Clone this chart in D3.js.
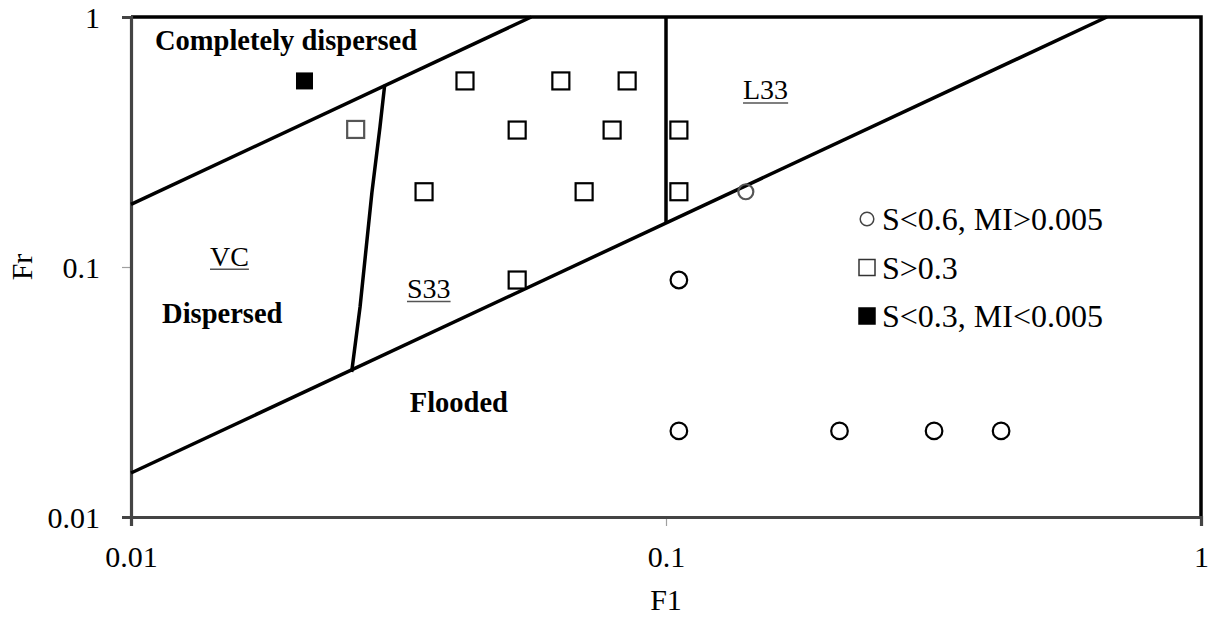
<!DOCTYPE html>
<html>
<head>
<meta charset="utf-8">
<script src="https://cdn.jsdelivr.net/npm/d3@7"></script>
<style>
  html, body { margin: 0; padding: 0; background: #fff; }
  svg { display: block; font-family: "Liberation Serif", "Times New Roman", serif; }
</style>
</head>
<body>
<svg id="chart" width="1210" height="617"></svg>
<script>
// Axis ticks
const xTicks = [0.01, 0.1, 1];
const yTicks = [0.01, 0.1, 1];
const xTickLabels = ["0.01", "0.1", "1"];
const yTickLabels = ["0.01", "0.1", "1"];

// Measured points: S>0.3 (open squares)
const openSquareFl = [0.0263, 0.0421, 0.0636, 0.0846, 0.0527, 0.0793, 0.1057, 0.0353, 0.0703, 0.1057, 0.0527];
const openSquareFr = [0.355, 0.555, 0.555, 0.555, 0.353, 0.353, 0.353, 0.2, 0.2, 0.2, 0.0887];

// S<0.3, MI<0.005 (filled squares)
const filledSquareFl = [0.0211];
const filledSquareFr = [0.555];

// S<0.6, MI>0.005 (open circles)
const circleFl = [0.141, 0.1057, 0.1057, 0.211, 0.317, 0.423];
const circleFr = [0.2, 0.0887, 0.0221, 0.0221, 0.0221, 0.0221];

// Regime boundaries
const dispersedBoundaryFl = [0.01, 0.056];
const dispersedBoundaryFr = [0.178, 1];
const floodingBoundaryFl = [0.01, 0.667];
const floodingBoundaryFr = [0.015, 1];
const vcBoundaryFl = [0.0298, 0.0292, 0.0282, 0.0268, 0.02585];
const vcBoundaryFr = [0.535, 0.363, 0.198, 0.0692, 0.038];
const l33BoundaryFl = [0.1, 0.1];
const l33BoundaryFr = [1, 0.15];

// Legend entries
const legendLabels = ["S<0.6, MI>0.005", "S>0.3", "S<0.3, MI<0.005"];
const legendShapes = ["circle", "square", "filled"];

const svg = d3.select("#chart");
const plot = { left: 131, right: 1201, top: 17, bottom: 517 };

const x = d3.scaleLog().domain([0.01, 1]).range([plot.left, plot.right]);
const y = d3.scaleLog().domain([0.01, 1]).range([plot.bottom, plot.top]);

const zip = (a, b) => a.map((v, i) => [v, b[i]]);

// Plot frame: top and right edges in black
svg.append("path")
  .attr("d", `M${plot.left},${plot.top}H${plot.right}V${plot.bottom}`)
  .attr("fill", "none").attr("stroke", "#000").attr("stroke-width", 3.5);

// Axes
const xAxis = d3.axisBottom(x).tickValues(xTicks).tickSize(9).tickFormat((d, i) => xTickLabels[i]);
const yAxis = d3.axisLeft(y).tickValues(yTicks).tickSize(9).tickFormat((d, i) => yTickLabels[i]);

const gx = svg.append("g").attr("transform", `translate(0,${plot.bottom})`).call(xAxis);
const gy = svg.append("g").attr("transform", `translate(${plot.left},0)`).call(yAxis);

[gx, gy].forEach(g => {
  g.select(".domain").attr("stroke", "#444").attr("stroke-width", 3.2);
  g.selectAll(".tick line").attr("stroke", "#a0a0a0").attr("stroke-width", 1.2);
  g.selectAll(".tick text")
    .attr("font-family", "Liberation Serif")
    .attr("font-size", 30)
    .attr("fill", "#000");
});
gx.selectAll(".tick text").attr("dy", null).attr("y", 50).attr("dominant-baseline", "auto");
gy.selectAll(".tick text").attr("dy", null).attr("x", -31).attr("y", 10);
gx.select(".domain").raise();
gy.select(".domain").raise();

// Axis titles
svg.append("text")
  .attr("x", x(0.1)).attr("y", 610)
  .attr("text-anchor", "middle")
  .attr("font-size", 30)
  .text("F1");
svg.append("text")
  .attr("transform", `translate(32,${y(0.1)}) rotate(-90)`)
  .attr("text-anchor", "middle")
  .attr("font-size", 30)
  .text("Fr");

// Regime boundaries
const line = d3.line().x(d => x(d[0])).y(d => y(d[1]));
const boundaries = [
  zip(dispersedBoundaryFl, dispersedBoundaryFr),
  zip(floodingBoundaryFl, floodingBoundaryFr),
  zip(vcBoundaryFl, vcBoundaryFr),
  zip(l33BoundaryFl, l33BoundaryFr)
];
svg.append("g").selectAll("path").data(boundaries).join("path")
  .attr("d", line)
  .attr("fill", "none")
  .attr("stroke", "#000")
  .attr("stroke-width", 3.5)
  .attr("stroke-linejoin", "round");

// Regime labels (bold)
const boldLabels = [
  { text: "Completely dispersed", fl: 0.01109, fr: 0.738 },
  { text: "Dispersed", fl: 0.01143, fr: 0.0597 },
  { text: "Flooded", fl: 0.0332, fr: 0.0263 }
];
svg.append("g").selectAll("text").data(boldLabels).join("text")
  .attr("x", d => x(d.fl))
  .attr("y", d => y(d.fr))
  .attr("font-size", 28.5)
  .attr("font-weight", "bold")
  .text(d => d.text);

// Region names (underlined)
const regionNames = [
  { text: "VC", fl: 0.01405, fr: 0.1012 },
  { text: "S33", fl: 0.0328, fr: 0.0752 },
  { text: "L33", fl: 0.1393, fr: 0.468 }
];
const rn = svg.append("g").selectAll("g").data(regionNames).join("g");
rn.append("text")
  .attr("x", d => x(d.fl))
  .attr("y", d => y(d.fr))
  .attr("font-size", 28)
  .text(d => d.text);
rn.each(function () {
  const t = d3.select(this).select("text");
  const b = t.node().getBBox();
  const base = +t.attr("y");
  d3.select(this).append("line")
    .attr("x1", b.x).attr("x2", b.x + b.width)
    .attr("y1", base + 3.5).attr("y2", base + 3.5)
    .attr("stroke", "#555").attr("stroke-width", 1.5);
});

// Data markers
const sq = 17;
svg.append("g").selectAll("rect").data(zip(openSquareFl, openSquareFr)).join("rect")
  .attr("x", d => x(d[0]) - sq / 2)
  .attr("y", d => y(d[1]) - sq / 2)
  .attr("width", sq).attr("height", sq)
  .attr("fill", "#fff")
  .attr("stroke", (d, i) => i === 0 ? "#555" : "#000")
  .attr("stroke-width", 2.2);

svg.append("g").selectAll("rect").data(zip(filledSquareFl, filledSquareFr)).join("rect")
  .attr("x", d => x(d[0]) - sq / 2)
  .attr("y", d => y(d[1]) - sq / 2)
  .attr("width", sq).attr("height", sq)
  .attr("fill", "#000");

svg.append("g").selectAll("circle").data(zip(circleFl, circleFr)).join("circle")
  .attr("cx", d => x(d[0]))
  .attr("cy", d => y(d[1]))
  .attr("r", (d, i) => i === 0 ? 7.5 : 8.3)
  .attr("fill", "none")
  .attr("stroke", (d, i) => i === 0 ? "#555" : "#000")
  .attr("stroke-width", 2.2);

// Legend
const legendX = 867, legendY0 = 219, legendStep = 48.5;
const lg = svg.append("g").selectAll("g").data(legendLabels).join("g")
  .attr("transform", (d, i) => `translate(${legendX},${legendY0 + i * legendStep})`);
lg.each(function (d, i) {
  const g = d3.select(this);
  if (legendShapes[i] === "circle") {
    g.append("circle").attr("r", 6.8).attr("fill", "none")
      .attr("stroke", "#444").attr("stroke-width", 1.5);
  } else {
    g.append("rect").attr("x", -8).attr("y", -8).attr("width", 16).attr("height", 16)
      .attr("fill", legendShapes[i] === "filled" ? "#000" : "#fff")
      .attr("stroke", legendShapes[i] === "filled" ? "#000" : "#333")
      .attr("stroke-width", 1.5);
  }
  g.append("text").attr("x", 15).attr("y", 11)
    .attr("font-size", 32).text(d);
});
</script>
</body>
</html>
